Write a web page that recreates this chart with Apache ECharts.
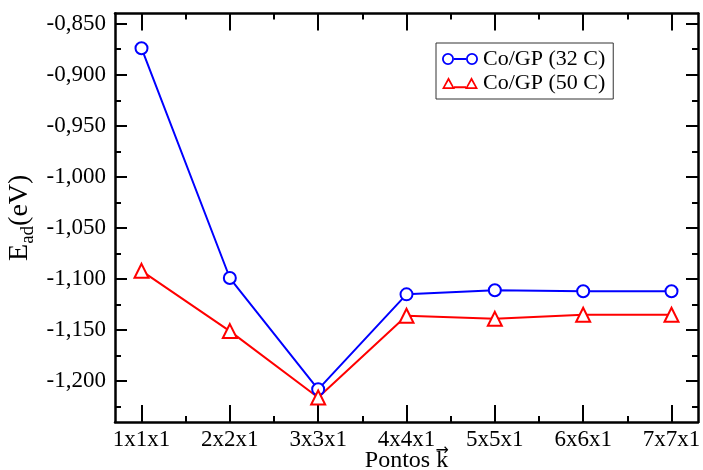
<!DOCTYPE html>
<html>
<head>
<meta charset="utf-8">
<script src="https://cdn.jsdelivr.net/npm/echarts@6/dist/echarts.min.js"></script>
<style>
  html, body { margin: 0; padding: 0; background: #fff; }
  #chart { width: 703px; height: 470px; }
</style>
</head>
<body>
<div id="chart"></div>
<script>
// k-point meshes on the horizontal axis
const kpoints = ['1x1x1', '2x2x1', '3x3x1', '4x4x1', '5x5x1', '6x6x1', '7x7x1'];
// adsorption energies (eV)
const co32 = [-0.874, -1.099, -1.208, -1.115, -1.111, -1.112, -1.112];
const co50 = [-1.092, -1.151, -1.216, -1.136, -1.139, -1.135, -1.135];
const seriesNames = ['Co/GP (32 C)', 'Co/GP (50 C)'];
// tick positions
const yMajor = [-1.2, -1.15, -1.1, -1.05, -1.0, -0.95, -0.9, -0.85];
const yMinor = [-1.225, -1.175, -1.125, -1.075, -1.025, -0.975, -0.925, -0.875];
const xMajor = kpoints.map((_, i) => i + 1);
const xMinor = kpoints.slice(1).map((_, i) => i + 1.5);

const FONT = 'Liberation Serif';
const BLACK = '#000';

// legend glyphs: two markers joined by a short line
function ring(cx) {
  return 'M' + (cx - 6) + ' 6A6 6 0 1 1 ' + (cx + 6) + ' 6A6 6 0 1 1 ' + (cx - 6) + ' 6Z' +
         'M' + (cx - 4.2) + ' 6A4.2 4.2 0 1 0 ' + (cx + 4.2) + ' 6A4.2 4.2 0 1 0 ' + (cx - 4.2) + ' 6Z';
}
function tri(cx) {
  return 'M' + cx + ' 0L' + (cx + 6.5) + ' 12L' + (cx - 6.5) + ' 12Z' +
         'M' + cx + ' 3.8L' + (cx - 3.7) + ' 10.2L' + (cx + 3.7) + ' 10.2Z';
}
const iconCircles = 'path://' + ring(6) + ring(30) + 'M12 5L24 5L24 7L12 7Z';
const iconTris = 'path://' + tri(6.5) + tri(29.5) + 'M12 9.2L24 9.2L24 11.2L12 11.2Z';

function tickAxis(pos, vals, len, showLine) {
  return {
    type: 'value', position: pos,
    axisLine: { show: showLine, onZero: false, lineStyle: { color: BLACK, width: 2.5 } },
    axisTick: { show: true, inside: true, length: len, customValues: vals, lineStyle: { color: BLACK, width: 2 } },
    axisLabel: { show: false },
    splitLine: { show: false }
  };
}

const xRange = { min: 0.7, max: 7.3 };
const yRange = { min: -1.24, max: -0.84 };

const xAxes = [
  Object.assign(tickAxis('bottom', xMajor, 17, true), xRange, {
    axisLabel: {
      show: true, customValues: xMajor, margin: 6,
      formatter: v => kpoints[Math.round(v) - 1],
      fontFamily: FONT, fontSize: 23, color: BLACK
    },
    // "Pontos k" with a vector arrow set above the k
    name: '{g|Pontos }{arr|\u2192}\n{t|Pontos k}', nameLocation: 'middle', nameGap: 27,
    nameMoveOverlap: false,
    nameTextStyle: {
      fontFamily: FONT, color: BLACK,
      rich: {
        g: { fontFamily: FONT, fontSize: 24, color: 'rgba(0,0,0,0)', lineHeight: 4 },
        arr: { fontFamily: 'DejaVu Sans', fontSize: 16, color: BLACK, lineHeight: 4 },
        t: { fontFamily: FONT, fontSize: 24, color: BLACK, lineHeight: 16 }
      }
    }
  }),
  Object.assign(tickAxis('bottom', xMinor, 6, false), xRange),
  Object.assign(tickAxis('top', xMajor, 17, true), xRange),
  Object.assign(tickAxis('top', xMinor, 6, false), xRange)
];

const yAxes = [
  Object.assign(tickAxis('left', yMajor, 12, true), yRange, {
    axisLabel: {
      show: true, customValues: yMajor, margin: 9,
      formatter: v => v.toFixed(3).replace('.', ','),
      fontFamily: FONT, fontSize: 23, color: BLACK
    },
    name: '{e|E}{s|ad}{e|(eV)}', nameLocation: 'middle', nameGap: 78, nameRotate: 90,
    nameMoveOverlap: false,
    nameTextStyle: {
      fontFamily: FONT, color: BLACK,
      rich: {
        e: { fontFamily: FONT, fontSize: 28, color: BLACK, lineHeight: 34 },
        s: { fontFamily: FONT, fontSize: 19, color: BLACK, lineHeight: 18, padding: [16, 0, 0, 0] }
      }
    }
  }),
  Object.assign(tickAxis('left', yMinor, 6, false), yRange),
  Object.assign(tickAxis('right', yMajor, 12, true), yRange),
  Object.assign(tickAxis('right', yMinor, 6, false), yRange)
];

const chart = echarts.init(document.getElementById('chart'), null, { renderer: 'canvas' });
chart.setOption({
  animation: false,
  backgroundColor: '#fff',
  grid: { left: 115, right: 5, top: 13.5, bottom: 48, containLabel: false, outerBoundsMode: 'none' },
  xAxis: xAxes,
  yAxis: yAxes,
  legend: {
    orient: 'vertical', left: 436, top: 43,
    padding: [5, 8, 5, 6], itemGap: 2,
    itemWidth: 36, itemHeight: 12,
    borderColor: '#333', borderWidth: 1,
    textStyle: { fontFamily: FONT, fontSize: 22, color: BLACK, lineHeight: 22 },
    data: [
      { name: seriesNames[0], icon: iconCircles, itemStyle: { color: '#0000ff', borderWidth: 0 } },
      { name: seriesNames[1], icon: iconTris, itemStyle: { color: '#ff0000', borderWidth: 0 } }
    ]
  },
  series: [
    {
      name: seriesNames[0], type: 'line',
      data: co32.map((v, i) => [xMajor[i], v]),
      symbol: 'emptyCircle', symbolSize: 12,
      lineStyle: { color: '#0000ff', width: 2 },
      itemStyle: { color: '#0000ff', borderColor: '#0000ff', borderWidth: 2 }
    },
    {
      name: seriesNames[1], type: 'line',
      data: co50.map((v, i) => [xMajor[i], v]),
      symbol: 'emptyTriangle', symbolSize: 14,
      lineStyle: { color: '#ff0000', width: 2 },
      itemStyle: { color: '#ff0000', borderColor: '#ff0000', borderWidth: 2 }
    }
  ]
});
</script>
</body>
</html>
